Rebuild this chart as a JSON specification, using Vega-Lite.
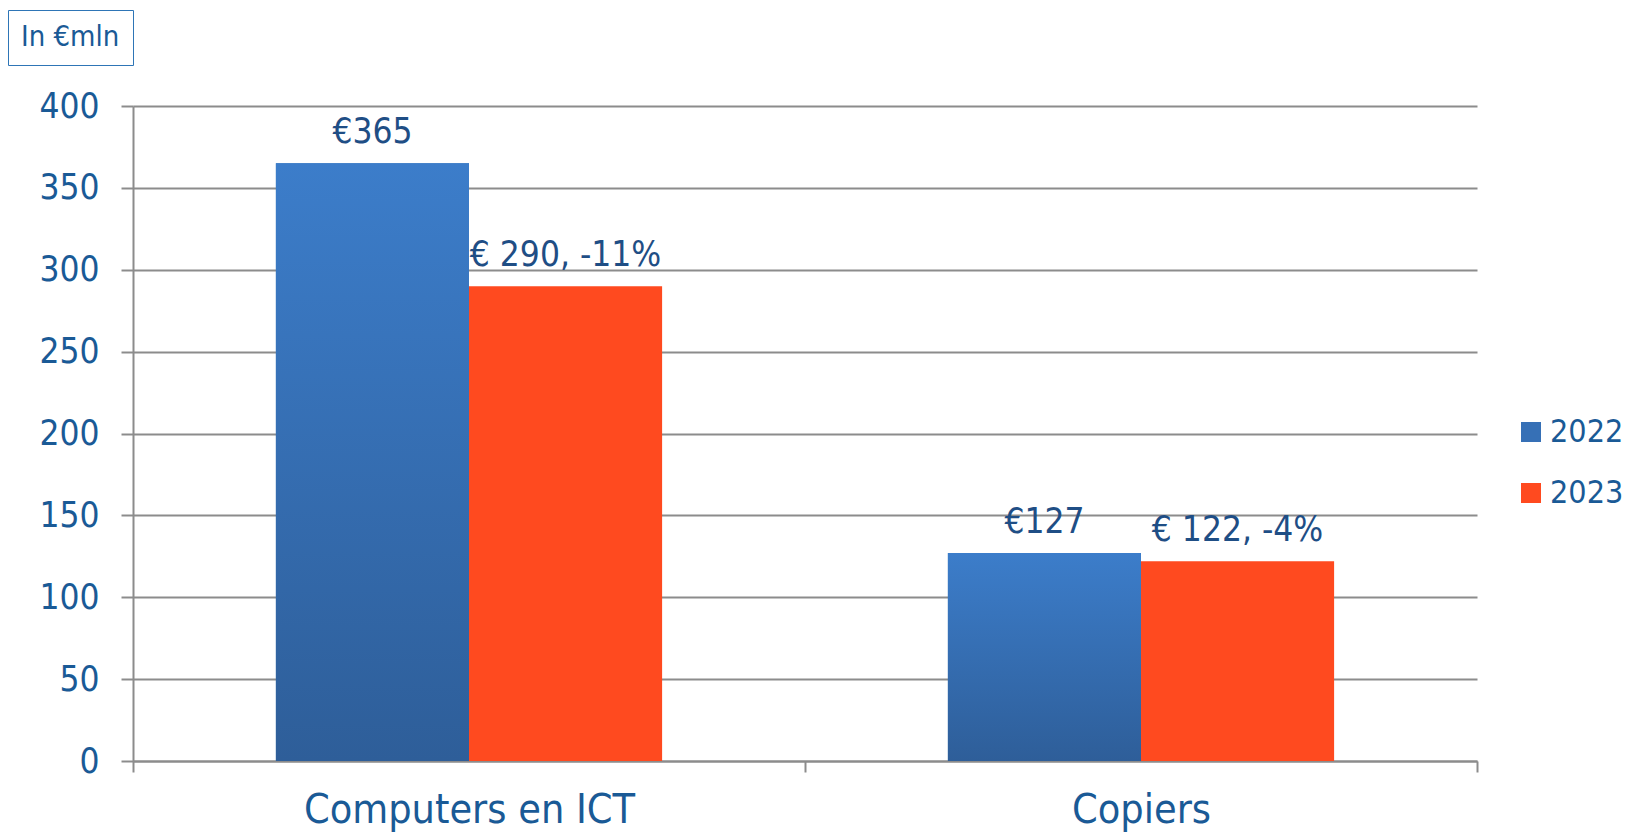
{
  "$schema": "https://vega.github.io/schema/vega-lite/v6.json",
  "width": 1344,
  "height": 655,
  "autosize": {"type": "none"},
  "padding": {"left": 133, "top": 106, "right": 154, "bottom": 73},
  "background": "white",
  "config": {
    "view": {"stroke": null},
    "font": "DejaVu Sans Condensed"
  },
  "data": {
    "values": [
      {"cat": "Computers en ICT", "year": "2022", "value": 365, "label": "€365"},
      {"cat": "Computers en ICT", "year": "2023", "value": 290, "label": "€ 290, -11%"},
      {"cat": "Copiers", "year": "2022", "value": 127, "label": "€127"},
      {"cat": "Copiers", "year": "2023", "value": 122, "label": "€ 122, -4%"}
    ]
  },
  "encoding": {
    "x": {
      "field": "cat", "type": "nominal", "sort": null,
      "scale": {"paddingInner": 0, "paddingOuter": 0},
      "axis": {
        "title": null, "labelAngle": 0, "labelFontSize": 41, "labelColor": "#1A5A96",
        "labelFont": "DejaVu Sans Condensed", "labelLimit": 1000, "labelBaseline": "alphabetic",
        "domainColor": "#8c8c8c", "domainWidth": 2, "tickColor": "#8c8c8c", "tickWidth": 2,
        "tickSize": 11, "tickBand": "extent", "labelPadding": 50, "grid": false
      }
    },
    "xOffset": {
      "field": "year", "type": "nominal",
      "scale": {"paddingInner": 0, "paddingOuter": 0.74}
    },
    "y": {
      "field": "value", "type": "quantitative",
      "scale": {"domain": [0, 400], "nice": false},
      "axis": {
        "title": null, "values": [0, 50, 100, 150, 200, 250, 300, 350, 400],
        "labelFontSize": 35, "labelColor": "#1A5A96", "labelFont": "DejaVu Sans Condensed",
        "domainColor": "#8c8c8c", "domainWidth": 2, "tickColor": "#8c8c8c", "tickWidth": 2,
        "tickSize": 12, "labelPadding": 22, "grid": true, "gridColor": "#8c8c8c", "gridWidth": 2
      }
    }
  },
  "layer": [
    {
      "mark": {"type": "bar"},
      "encoding": {
        "color": {
          "field": "year", "type": "nominal",
          "scale": {"domain": ["2022", "2023"], "range": ["#3670B6", "#FF4A1F"]},
          "legend": {
            "title": null, "orient": "none", "legendX": 1382, "legendY": 310,
            "symbolType": "square", "symbolSize": 400, "symbolStrokeWidth": 0,
            "labelFontSize": 32, "labelColor": "#1A5A96", "labelFont": "DejaVu Sans Condensed",
            "labelOffset": 3, "rowPadding": 29, "padding": 0, "labelLimit": 1000
          }
        }
      }
    },
    {
      "transform": [{"filter": "datum.year === '2022'"}],
      "mark": {
        "type": "bar",
        "color": {
          "gradient": "linear", "x1": 0, "y1": 0, "x2": 0, "y2": 1,
          "stops": [{"offset": 0, "color": "#3C7DCA"}, {"offset": 1, "color": "#2E5E99"}]
        }
      },
      "encoding": {
        "strokeDash": {
          "datum": "box", "type": "nominal",
          "scale": {"range": [[1, 0]]},
          "legend": {
            "values": [], "title": "\u2002In €mln\u2002", "orient": "none",
            "legendX": -125, "legendY": -96, "titleFontSize": 29, "titleFontWeight": "normal",
            "titleColor": "#1A5A96", "titleFont": "DejaVu Sans Condensed",
            "strokeColor": "#2E75B6", "padding": 13, "titlePadding": 0
          }
        }
      }
    },
    {
      "mark": {"type": "text", "baseline": "alphabetic", "dy": -20, "fontSize": 35, "color": "#1F4E85", "font": "DejaVu Sans Condensed"},
      "encoding": {"text": {"field": "label"}}
    }
  ]
}
